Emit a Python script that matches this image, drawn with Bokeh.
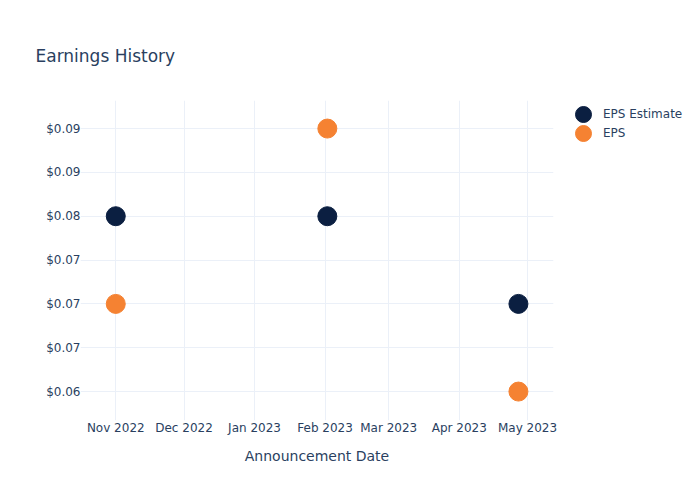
from datetime import datetime
from bokeh.plotting import figure
from bokeh.layouts import row
from bokeh.models import (Range1d, FixedTicker, MonthsTicker, DatetimeTickFormatter,
                          Legend, LegendItem, ColumnDataSource)
from bokeh.embed import file_html
from bokeh.resources import INLINE

# ---- data ----
dates = ["2022-11-01", "2023-02-02", "2023-04-27"]
eps_estimate = [0.08, 0.08, 0.07]
eps_actual = [0.07, 0.09, 0.06]
y_ticks = [0.06, 0.065, 0.07, 0.075, 0.08, 0.085, 0.09]
y_tick_labels = ["$0.06", "$0.07", "$0.07", "$0.07", "$0.08", "$0.09", "$0.09"]
series_names = ["EPS Estimate", "EPS"]
series_colors = ["#0b1f41", "#f58232"]

FONT = "DejaVu Sans"
TXT = "#2a3f5f"
GRID = "#ebf0f8"

x_dates = [datetime.strptime(d, "%Y-%m-%d") for d in dates]
src = ColumnDataSource(dict(x=x_dates, est=eps_estimate, act=eps_actual))

p = figure(width=560, height=500, output_backend="svg", toolbar_location=None,
           x_axis_type="datetime",
           x_range=Range1d(datetime(2022, 10, 16, 12), datetime(2023, 5, 12, 10)),
           y_range=Range1d(0.0567, 0.0932),
           min_border_left=80, min_border_right=7, min_border_top=100, min_border_bottom=80)
p.outline_line_color = None
p.background_fill_color = "white"
p.border_fill_color = "white"

# title
p.title.text = "Earnings History"
p.title.align = "left"
p.title.vertical_align = "top"
p.title.offset = -45
p.title.standoff = 66
p.title.text_font = FONT
p.title.text_font_size = "17px"
p.title.text_font_style = "normal"
p.title.text_color = TXT

# axes
xa = p.xaxis[0]
xa.ticker = MonthsTicker(months=list(range(12)))
xa.formatter = DatetimeTickFormatter(months="%b %Y", days="%b %Y")
xa.axis_label = "Announcement Date"
ya = p.yaxis[0]
ya.ticker = FixedTicker(ticks=y_ticks)
ya.major_label_overrides = {t: l for t, l in zip(y_ticks, y_tick_labels)}
for ax in (xa, ya):
    ax.axis_line_color = None
    ax.major_tick_line_color = None
    ax.minor_tick_line_color = None
    ax.major_tick_out = 0
    ax.major_tick_in = 0
    ax.minor_tick_out = 0
    ax.minor_tick_in = 0
    ax.major_label_text_font = FONT
    ax.major_label_text_font_size = "12px"
    ax.major_label_text_color = TXT
    ax.axis_label_text_font = FONT
    ax.axis_label_text_font_size = "14px"
    ax.axis_label_text_color = TXT
    ax.axis_label_text_font_style = "normal"
xa.major_label_standoff = 0
xa.axis_label_standoff = 10
ya.major_label_standoff = 0

p.xgrid.grid_line_color = GRID
p.ygrid.grid_line_color = GRID
p.xgrid.grid_line_width = 1
p.ygrid.grid_line_width = 1

p.scatter("x", "est", source=src, size=19, color=series_colors[0], line_color=series_colors[0])
p.scatter("x", "act", source=src, size=19, color=series_colors[1], line_color=series_colors[1])

# ---- legend panel (separate figure to the right; its frame is aligned with p's) ----
# the legend renderers use the same data; the points fall outside this panel's range
q = figure(width=140, height=500, output_backend="svg", toolbar_location=None,
           x_range=Range1d(0, 1), y_range=Range1d(0, 1),
           min_border=0, min_border_left=0, min_border_right=0,
           min_border_top=0, min_border_bottom=0)
q.axis.visible = False
q.grid.visible = False
q.outline_line_color = None
q.background_fill_color = "white"
q.border_fill_color = "white"
q.title.visible = False

lr1 = q.scatter("x", "est", source=src, size=19, color=series_colors[0], line_color=series_colors[0])
lr2 = q.scatter("x", "act", source=src, size=19, color=series_colors[1], line_color=series_colors[1])

def make_legend(label, rend, loc):
    return Legend(items=[LegendItem(label=label, renderers=[rend])],
                  location=loc, orientation="vertical",
                  glyph_width=40, glyph_height=40, label_height=40, spacing=0,
                  label_standoff=0, padding=0, margin=0,
                  border_line_color=None, background_fill_alpha=0,
                  label_text_font=FONT, label_text_font_size="12px", label_text_color=TXT)

q.add_layout(make_legend(series_names[0], lr1, (3, 286)), "center")
q.add_layout(make_legend(series_names[1], lr2, (3, 267)), "center")

layout = row(p, q, spacing=0)
open("out.html", "w").write(file_html(layout, INLINE))
